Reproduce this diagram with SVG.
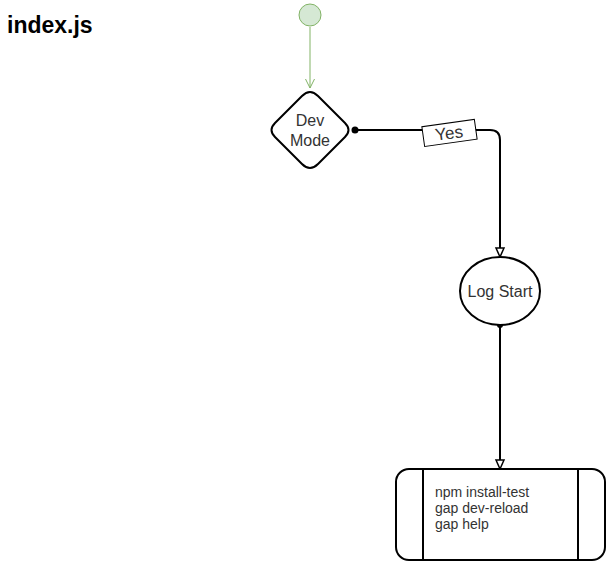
<svg xmlns="http://www.w3.org/2000/svg" width="607" height="562" viewBox="0 0 607 562">
<style>
text{font-family:"Liberation Sans",Arial,sans-serif;fill:#333}
.n{fill:#fff;stroke:#000;stroke-width:2}
.c{fill:none;stroke:#000;stroke-width:2}
</style>
<defs>
<marker id="tri" markerWidth="12" markerHeight="12" refX="10" refY="5" orient="auto" markerUnits="userSpaceOnUse" viewBox="0 0 12 10"><path d="M1,1 L10,5 L1,9 Z" fill="#fff" stroke="#000" stroke-width="1.5"/></marker>
<marker id="vg" markerWidth="12" markerHeight="12" refX="10" refY="5" orient="auto" markerUnits="userSpaceOnUse" viewBox="0 0 12 10"><path d="M1,0.5 L10,5 L1,9.5" fill="none" stroke="#82b366" stroke-width="1"/></marker>
</defs>
<rect width="607" height="562" fill="#fff"/>
<text x="7" y="33" font-size="23" font-weight="bold" style="fill:#000">index.js</text>
<g id="connectors">
<path d="M310,27 L310,88" fill="none" stroke="#82b366" stroke-width="1" marker-end="url(#vg)"/>
<path class="c" d="M355,130 L490,130 Q500,130 500,140 L500,257" marker-end="url(#tri)"/>
<circle cx="355" cy="130" r="3.5" fill="#000"/>
<path class="c" d="M500,325 L500,469" marker-end="url(#tri)"/>
<circle cx="500" cy="325" r="3" fill="#000"/>
<g id="label-yes" transform="rotate(-8 449 133)">
<rect x="423" y="123" width="53" height="20" fill="#fff" stroke="#000" stroke-width="1"/>
<text x="449" y="139" font-size="17" text-anchor="middle">Yes</text>
</g>
</g>
<g id="start">
<circle cx="310" cy="15" r="11" fill="#d5e8d4" stroke="#82b366" stroke-width="1"/>
</g>
<g id="dev-mode">
<path class="n" d="M302,96 Q310,88 318,96 L345,123 Q352,130 345,137 L318,164 Q310,172 302,164 L275,137 Q268,130 275,123 Z"/>
<text x="310" y="126" font-size="16" text-anchor="middle">Dev</text>
<text x="310" y="146" font-size="16" text-anchor="middle">Mode</text>
</g>
<g id="log-start">
<ellipse class="n" cx="500" cy="291" rx="40" ry="34"/>
<text x="500" y="297" font-size="16" text-anchor="middle">Log Start</text>
</g>
<g id="commands">
<rect class="n" x="396" y="469" width="209" height="91" rx="13"/>
<line x1="423" y1="469" x2="423" y2="560" stroke="#000" stroke-width="2"/>
<line x1="578" y1="469" x2="578" y2="560" stroke="#000" stroke-width="2"/>
<text x="435" y="497" font-size="14">npm install-test</text>
<text x="435" y="513" font-size="14">gap dev-reload</text>
<text x="435" y="529" font-size="14">gap help</text>
</g>
</svg>
